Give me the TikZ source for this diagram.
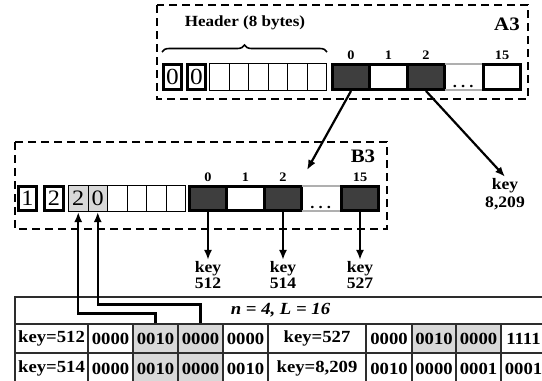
\documentclass[tikz,border=0pt]{standalone}
\usepackage{fontspec}
\setmainfont[FakeStretch=1.1]{Liberation Serif}
\usetikzlibrary{arrows.meta, positioning, calc, decorations.pathreplacing}
\definecolor{slotdark}{RGB}{62,62,62}
\definecolor{cellgray}{RGB}{216,216,216}
\definecolor{dotgray}{RGB}{175,175,175}
\definecolor{gridline}{RGB}{45,45,45}
\newcommand{\tabfont}{\fontsize{17}{18}\selectfont\bfseries}
\newcommand{\keyfont}{\fontsize{16}{16.5}\selectfont\bfseries}
\newcommand{\idxfont}{\fontsize{13}{13}\selectfont\bfseries}
\newcommand{\digfont}{\fontsize{23}{24}\selectfont}
\newcommand{\namefont}{\fontsize{19}{20}\selectfont\bfseries}

\begin{document}
\begin{tikzpicture}[x=1pt, y=-1pt,
  byte/.style={draw, line width=1pt, minimum width=19.5pt, minimum height=27pt, inner sep=0pt, font=\digfont},
  fatbyte/.style={byte, line width=3pt, minimum width=18pt, minimum height=25pt},
  slot/.style={draw, line width=3pt, minimum width=37.5pt, minimum height=25pt, inner sep=0pt},
  darkslot/.style={slot, fill=slotdark},
  dotslot/.style={minimum width=37pt, minimum height=25pt, inner sep=0pt},
  dots/.style={font=\fontsize{15}{15}\selectfont\bfseries, inner sep=2pt, anchor=south},
  idx/.style={font=\idxfont, inner sep=1pt, above=2pt},
  keylbl/.style={font=\keyfont, align=center, inner sep=1pt},
  bucket/.style={line width=2.3pt, dash pattern=on 8pt off 5pt},
  conn/.style={line width=2.2pt, -{Latex[length=10pt, width=8pt]}},
  tcell/.style={draw=gridline, line width=1.2pt, minimum height=29pt, inner sep=0pt, font=\tabfont},
]
  \useasboundingbox (0,0) rectangle (542,381);

  % bucket A3
  \draw[bucket] (157,5) rectangle (528,99);
  \node[font=\fontsize{15.5}{16}\selectfont\bfseries] (hdr) at (245,23) {Header (8 bytes)};
  \node[font=\namefont] (na3) at (507,24) {A3};

  \node[fatbyte] (a0) at (172.5,77) {0};
  \node[fatbyte] (a1) at (196.5,77) {0};
  \foreach \i in {0,...,5}
    \node[byte] (ah\i) at ({219.25+19.5*\i},77) {};
  \draw[decorate, decoration={brace, amplitude=7pt}, line width=1.6pt]
    ([yshift=11pt]a0.north west) -- ([yshift=11pt]ah5.north east);

  \node[darkslot] (as0) at (351,77) {};
  \node[slot] (as1) at (388.5,77) {};
  \node[darkslot] (as2) at (426,77) {};
  \node[dotslot] (asd) at (463.25,77) {};
  \node[dots] (asdots) at (asd.south) {.\;.\;.};
  \node[slot, minimum width=37pt] (as15) at (502,77) {};
  \draw[dotgray, line width=2pt] (asd.north west) -- (asd.north east)
    (asd.south west) -- (asd.south east);
  \node[idx] (ia0) at (as0.north) {0};
  \node[idx] (ia1) at (as1.north) {1};
  \node[idx] (ia2) at (as2.north) {2};
  \node[idx] (ia15) at (as15.north) {15};

  % bucket B3
  \draw[bucket] (15,142) rectangle (387,229);
  \node[font=\namefont] (nb3) at (363,156) {B3};

  \node[fatbyte, minimum height=24pt, font=\fontsize{22}{23}\selectfont] (b0) at (27.5,198.5) {1};
  \node[fatbyte, minimum height=24pt, minimum width=19pt, font=\fontsize{22}{23}\selectfont] (b1) at (54,198.5) {2};
  \node[byte, minimum height=26pt, fill=cellgray, font=\fontsize{22}{23}\selectfont] (bg2) at (78.25,198.5) {2};
  \node[byte, minimum height=26pt, fill=cellgray, font=\fontsize{22}{23}\selectfont] (bg0) at (97.75,198.5) {0};
  \foreach \i in {0,...,3}
    \node[byte, minimum height=26pt] (bh\i) at ({117.25+19.5*\i},198.5) {};

  \node[darkslot, minimum height=24pt] (bs0) at (208,198.5) {};
  \node[slot, minimum height=24pt] (bs1) at (245.5,198.5) {};
  \node[darkslot, minimum height=24pt] (bs2) at (283,198.5) {};
  \node[dotslot, minimum height=24pt, minimum width=38pt] (bsd) at (320.75,198.5) {};
  \node[dots] (bsdots) at (bsd.south) {.\;.\;.};
  \node[darkslot, minimum height=24pt, minimum width=37pt] (bs15) at (360,198.5) {};
  \draw[dotgray, line width=2pt] (bsd.north west) -- (bsd.north east)
    (bsd.south west) -- (bsd.south east);
  \node[idx] (ib0) at (bs0.north) {0};
  \node[idx] (ib1) at (bs1.north) {1};
  \node[idx] (ib2) at (bs2.north) {2};
  \node[idx] (ib15) at (bs15.north) {15};

  % keys
  \coordinate (b3in) at (307,170);
  \node[keylbl] (k512) at (208,275) {key\\512};
  \node[keylbl] (k514) at (283,275) {key\\514};
  \node[keylbl] (k527) at (360,275) {key\\527};
  \node[keylbl] (k8209) at (505,194) {key\\[2pt]8,209};

  \draw[conn] (as0.south) -- (b3in);
  \draw[conn] (as2.south) -- (k8209.north);
  \draw[conn] (bs0.south) -- (k512.north);
  \draw[conn] (bs2.south) -- (k514.north);
  \draw[conn] (bs15.south) -- (k527.north);

  % table
  \node[tcell, minimum width=531pt, minimum height=27pt, font=\tabfont\itshape] (thead) at (280.5,310.5) {n = 4, L = 16};
  \foreach \x/\w/\t/\f [count=\c] in {51.5/73/key=512/white, 110.5/45/0000/white,
      155.5/45/0010/cellgray, 200.5/45/0000/cellgray, 245.5/45/0000/white,
      317/98/key=527/white, 389/46/0000/white, 434/44/0010/cellgray,
      478.5/45/0000/cellgray, 523.5/45/1111/white}
    \node[tcell, minimum width=\w*1pt, fill=\f] (ra\c) at (\x,338.5) {\t};
  \foreach \x/\w/\t/\f [count=\c] in {51.5/73/key=514/white, 110.5/45/0000/white,
      155.5/45/0010/cellgray, 200.5/45/0000/cellgray, 245.5/45/0010/white,
      317/98/{key=8,209}/white, 389/46/0010/white, 434/44/0000/white,
      478.5/45/0001/white, 523.5/45/0001/white}
    \node[tcell, minimum width=\w*1pt, minimum height=31pt, fill=\f] (rb\c) at (\x,368.5) {\t};

  \draw[conn] (ra3.north) -- ++(0,-10) -| (bg2.south);
  \draw[conn] (ra4.north) -- ++(0,-19) -| (bg0.south);

\end{tikzpicture}
\end{document}
